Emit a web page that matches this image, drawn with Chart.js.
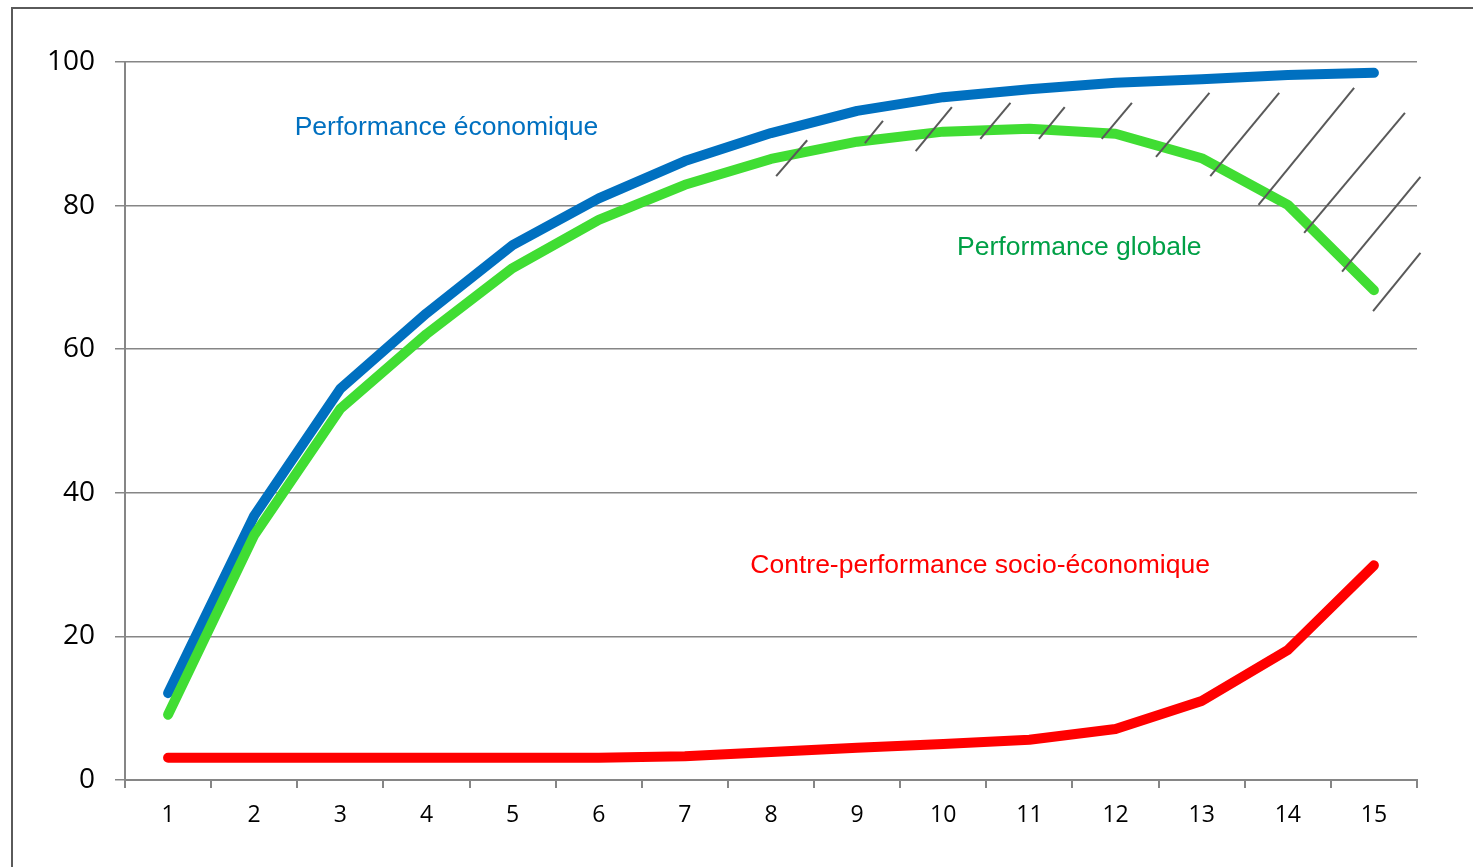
<!DOCTYPE html>
<html>
<head>
<meta charset="utf-8">
<title>Performance</title>
<script src="https://cdn.jsdelivr.net/npm/chart.js@4"></script>
<style>
  html, body { margin: 0; padding: 0; background: #fff; overflow: hidden; }
  canvas { display: block; }
</style>
</head>
<body>
<canvas id="perfChart" width="1473" height="867"></canvas>
<script>
// categories and series
const periods = ['1','2','3','4','5','6','7','8','9','10','11','12','13','14','15'];
const perfEconomique = [12.1, 36.8, 54.5, 65, 74.5, 81, 86.2, 90.1, 93.2, 95.1, 96.2, 97.1, 97.6, 98.2, 98.5];
const perfGlobale = [9.1, 34.1, 51.7, 62.1, 71.3, 78, 82.9, 86.5, 88.9, 90.3, 90.7, 90, 86.6, 80.1, 68.2];
const contrePerf = [3.1, 3.1, 3.1, 3.1, 3.1, 3.1, 3.3, 3.9, 4.5, 5, 5.6, 7.1, 11, 18.1, 29.9];
const yTicks = [0, 20, 40, 60, 80, 100];

// hatch strokes between the two top curves, in axis units [x1, y1, x2, y2]
const hatchLines = [
  [7.06, 84.1, 7.42, 89.1],
  [8.09, 88.7, 8.30, 91.8],
  [8.68, 87.6, 9.10, 93.7],
  [9.43, 89.3, 9.78, 94.3],
  [10.11, 89.3, 10.41, 93.7],
  [10.84, 89.3, 11.19, 94.3],
  [11.47, 86.8, 12.09, 95.7],
  [12.10, 84.1, 12.90, 95.7],
  [12.66, 80.1, 13.77, 96.4],
  [13.19, 76.2, 14.36, 92.9],
  [13.63, 70.8, 14.54, 84.0],
  [13.99, 65.3, 14.54, 73.4]
];

// text labels placed in axis units [text, x, y, colour]
const seriesLabels = [
  ['Performance économique', 1.47, 90.9, '#0070C0'],
  ['Performance globale', 9.16, 74.1, '#00A046'],
  ['Contre-performance socio-économique', 6.76, 29.9, '#FF0000']
];

const frame = {
  id: 'frame',
  beforeDraw(chart) {
    const ctx = chart.ctx;
    ctx.save();
    ctx.fillStyle = '#fff';
    ctx.fillRect(0, 0, chart.width, chart.height);
    ctx.strokeStyle = '#5a5a5a';
    ctx.lineWidth = 2;
    ctx.strokeRect(12, 8, chart.width + 50, chart.height + 50);
    ctx.restore();
  }
};

const hatchAndText = {
  id: 'hatchAndText',
  afterDatasetsDraw(chart) {
    const ctx = chart.ctx;
    const xs = chart.scales.x, ys = chart.scales.y;
    ctx.save();
    ctx.strokeStyle = '#595959';
    ctx.lineWidth = 2;
    hatchLines.forEach(h => {
      ctx.beginPath();
      ctx.moveTo(xs.getPixelForValue(h[0]), ys.getPixelForValue(h[1]));
      ctx.lineTo(xs.getPixelForValue(h[2]), ys.getPixelForValue(h[3]));
      ctx.stroke();
    });
    ctx.font = '26.5px "Liberation Sans", Arial, sans-serif';
    ctx.textAlign = 'left';
    ctx.textBaseline = 'middle';
    seriesLabels.forEach(l => {
      ctx.fillStyle = l[3];
      ctx.fillText(l[0], xs.getPixelForValue(l[1]), ys.getPixelForValue(l[2]));
    });
    ctx.restore();
  }
};

const line = (data, color) => ({
  data: data,
  borderColor: color,
  backgroundColor: color,
  borderWidth: 10,
  borderCapStyle: 'round',
  borderJoinStyle: 'round',
  pointRadius: 0,
  tension: 0,
  fill: false
});

new Chart(document.getElementById('perfChart'), {
  type: 'line',
  data: {
    labels: periods,
    datasets: [
      line(contrePerf, '#FF0000'),
      line(perfGlobale, '#40DD33'),
      line(perfEconomique, '#0070C0')
    ]
  },
  options: {
    responsive: false,
    animation: false,
    devicePixelRatio: 1,
    layout: { padding: { left: 0, top: 62, right: 56, bottom: 0 } },
    plugins: { legend: { display: false }, tooltip: { enabled: false } },
    scales: {
      x: {
        offset: true,
        grid: { offset: true, drawOnChartArea: false, drawTicks: true, tickLength: 8, color: '#868686', lineWidth: 2 },
        border: { display: true, color: '#868686', width: 2 },
        ticks: { color: '#000', font: { family: '"Open Sans", "Noto Sans", sans-serif', size: 23 }, padding: 14, maxRotation: 0 },
        afterFit(s) { s.height = 87; }
      },
      y: {
        min: 0,
        max: 100,
        afterBuildTicks(s) { s.ticks = yTicks.map(v => ({ value: v })); },
        grid: { color: '#868686', lineWidth: 1.5, tickLength: 10 },
        border: { display: true, color: '#868686', width: 2 },
        ticks: { color: '#000', font: { family: '"Open Sans", "Noto Sans", sans-serif', size: 28 }, padding: 20 },
        afterFit(s) { s.width = 125; }
      }
    }
  },
  plugins: [frame, hatchAndText]
});
</script>
</body>
</html>
